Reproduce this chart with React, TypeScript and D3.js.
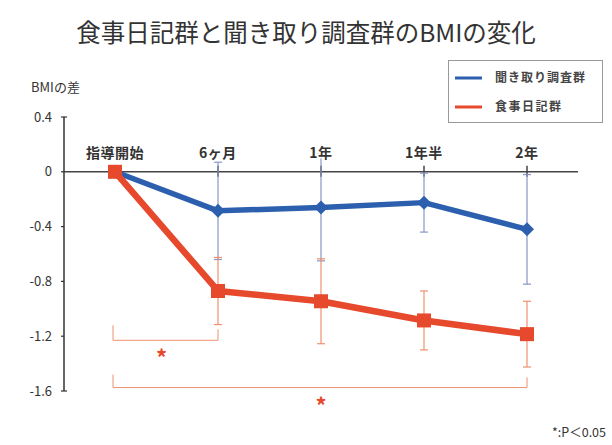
import React from "react";
import * as d3 from "d3";

const categories = ["指導開始", "6ヶ月", "1年", "1年半", "2年"];
const blueMeans = [0, -0.285, -0.26, -0.225, -0.42];
const blueErr = [0, 0.355, 0.39, 0.215, 0.4];
const redMeans = [0, -0.87, -0.945, -1.085, -1.185];
const redErr = [0, 0.245, 0.31, 0.215, 0.24];
const yTicks = [0.4, 0, -0.4, -0.8, -1.2, -1.6];
const yTickLabels = ["0.4", "0", "-0.4", "-0.8", "-1.2", "-1.6"];
const seriesNames = ["聞き取り調査群", "食事日記群"];
const titleText = "食事日記群と聞き取り調査群のBMIの変化";
const yAxisTitle = "BMIの差";
const footnote = "*:P＜0.05";

const BLUE = "#2c5fae";
const RED = "#e6492b";
const BLUE_ERR = "#8797c6";
const RED_ERR = "#f0906f";
const FONT = "'Noto Sans CJK JP', 'Noto Sans', sans-serif";

export default function App() {
  const W = 612, H = 445;
  const x = d3.scalePoint<string>().domain(categories).range([115, 527]);
  const y = d3.scaleLinear().domain([-1.6, 0.4]).range([391, 117]);
  const xAxisLeft = 64, xAxisRight = 578;
  const line = d3.line<number>().x((_, i) => x(categories[i])!).y((v) => y(v));

  const errBars = (means: number[], errs: number[], color: string, key: string) =>
    means.map((m, i) => {
      if (errs[i] === 0) return null;
      const cx = x(categories[i])!;
      const y1 = y(m + errs[i]);
      const y2 = y(m - errs[i]);
      return (
        <g key={key + i} stroke={color} strokeWidth={1.2}>
          <line x1={cx} x2={cx} y1={y1} y2={y2} />
          <line x1={cx - 4} x2={cx + 4} y1={y1} y2={y1} />
          <line x1={cx - 4} x2={cx + 4} y1={y2} y2={y2} />
        </g>
      );
    });

  const x0 = x(categories[0])!;
  const x1 = x(categories[1])!;
  const x4 = x(categories[4])!;

  return (
    <svg width={W} height={H} style={{ position: "absolute", left: 0, top: 0, background: "#fff" }} fontFamily={FONT}>
      <text x={306} y={42} textAnchor="middle" fontSize={24.5} fill="#333">{titleText}</text>
      <text x={31} y={92} fontSize={13} fill="#333">{yAxisTitle}</text>

      {/* legend */}
      <rect x={448.5} y={60.5} width={154} height={62} fill="#fff" stroke="#999" strokeWidth={1} />
      <line x1={455} x2={482} y1={78} y2={78} stroke={BLUE} strokeWidth={3} />
      <text x={495} y={82} fontSize={12} letterSpacing={1} fontWeight="bold" fill="#444">{seriesNames[0]}</text>
      <line x1={455} x2={482} y1={107} y2={107} stroke={RED} strokeWidth={3} />
      <text x={495} y={111} fontSize={12} letterSpacing={1.5} fontWeight="bold" fill="#444">{seriesNames[1]}</text>

      {/* y axis */}
      <line x1={xAxisLeft} x2={xAxisLeft} y1={y(0.4)} y2={y(-1.6)} stroke="#333" strokeWidth={1.5} />
      {yTicks.map((t, i) => (
        <g key={"yt" + i}>
          <line x1={xAxisLeft - 3} x2={xAxisLeft} y1={y(t)} y2={y(t)} stroke="#333" strokeWidth={1.2} />
          <text x={52} y={y(t) + 4.5} textAnchor="end" fontSize={13} fill="#333">{yTickLabels[i]}</text>
        </g>
      ))}
      <line x1={xAxisLeft} x2={xAxisLeft + 3} y1={y(0.4)} y2={y(0.4)} stroke="#333" strokeWidth={1.2} />
      <line x1={xAxisLeft} x2={xAxisLeft + 3} y1={y(-1.6)} y2={y(-1.6)} stroke="#333" strokeWidth={1.2} />

      {/* x axis at zero */}
      <line x1={xAxisLeft} x2={xAxisRight} y1={y(0)} y2={y(0)} stroke="#444" strokeWidth={1.5} />
      {categories.slice(1).map((c) => (
        <line key={"xt" + c} x1={x(c)!} x2={x(c)!} y1={y(0) - 6} y2={y(0) + 5} stroke="#444" strokeWidth={1.5} />
      ))}

      {errBars(blueMeans, blueErr, BLUE_ERR, "be")}
      {errBars(redMeans, redErr, RED_ERR, "re")}

      {categories.map((c) => (
        <text key={"xl" + c} x={x(c)!} y={158} textAnchor="middle" fontSize={14} letterSpacing={0.5} fontWeight="bold" fill="#333"
          stroke="#fff" strokeWidth={3} paintOrder="stroke">{c}</text>
      ))}

      {/* blue series */}
      <path d={line(blueMeans)!} fill="none" stroke={BLUE} strokeWidth={5.5} strokeLinejoin="round" />
      {blueMeans.map((m, i) => {
        const cx = x(categories[i])!, cy = y(m);
        return <path key={"bm" + i} d={`M${cx},${cy - 7}L${cx + 7},${cy}L${cx},${cy + 7}L${cx - 7},${cy}Z`} fill={BLUE} />;
      })}

      {/* red series */}
      <path d={line(redMeans)!} fill="none" stroke={RED} strokeWidth={6.5} strokeLinejoin="round" />
      {redMeans.map((m, i) => {
        const cx = x(categories[i])!, cy = y(m);
        return <rect key={"rm" + i} x={cx - 7} y={cy - 7} width={14} height={14} fill={RED} />;
      })}

      {/* significance brackets */}
      <g stroke={RED_ERR} strokeWidth={1} fill="none">
        <path d={`M${x0 - 2},${y(-1.12)}V${y(-1.23)}H${x1}V${y(-1.15)}`} />
        <path d={`M${x0 - 2},${y(-1.48)}V${y(-1.575)}H${x4}V${y(-1.5)}`} />
      </g>
      <text x={(x0 + x1) / 2 - 5} y={366} textAnchor="middle" fontSize={22} fontWeight="bold" fill={RED}>*</text>
      <text x={(x0 + x4) / 2} y={414} textAnchor="middle" fontSize={22} fontWeight="bold" fill={RED}>*</text>

      <text x={606} y={437} textAnchor="end" fontSize={12.5} fill="#333">{footnote}</text>
    </svg>
  );
}
